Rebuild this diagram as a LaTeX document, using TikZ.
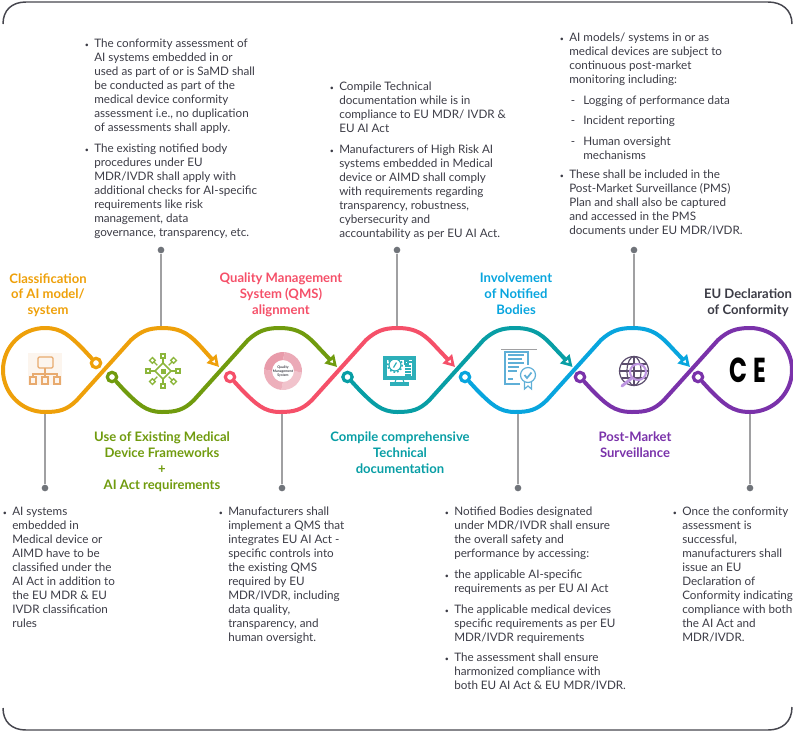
\documentclass[tikz,border=0pt]{standalone}
\usepackage{fontspec}
\setmainfont{Lato}
\newfontfamily\markfont{Poppins}
\usetikzlibrary{arrows.meta,positioning,calc}
\definecolor{frameGray}{RGB}{70,70,78}
\definecolor{textDark}{RGB}{60,60,70}
\definecolor{linkGray}{RGB}{160,160,162}
\definecolor{dotGray}{RGB}{112,116,122}
\definecolor{classOrange}{RGB}{238,160,10}
\definecolor{frameGreen}{RGB}{112,155,14}
\definecolor{qmsRed}{RGB}{245,80,105}
\definecolor{docTeal}{RGB}{8,158,165}
\definecolor{bodyBlue}{RGB}{8,165,222}
\definecolor{pmsPurple}{RGB}{122,50,170}
\definecolor{iconPeach}{RGB}{232,170,110}
\definecolor{iconGreen}{RGB}{140,182,60}
\definecolor{iconPink}{RGB}{232,155,170}
\definecolor{iconTeal}{RGB}{45,175,185}
\definecolor{iconBlue}{RGB}{95,175,215}
\definecolor{iconGlobe}{RGB}{92,78,110}
\definecolor{iconLens}{RGB}{190,150,225}
\newcommand{\blt}{\leavevmode\llap{\scalebox{.6}{\textbullet}\hspace{4pt}}}
\newcommand{\dashitem}{\hspace*{10.5pt}\llap{-\hspace{6pt}}}
\tikzset{
    descbox/.style={anchor=north west, inner sep=0pt, align=left, text=textDark,
        font=\fontsize{8.75}{10.5}\selectfont},
    titlebox/.style={anchor=north, inner sep=0pt, align=center,
        font=\fontsize{9.8}{11.8}\selectfont\bfseries},
    strand/.style={line width=3pt, line cap=round, line join=round, draw=#1},
    ringdot/.style={circle, draw=#1, line width=2.4pt, fill=white, minimum size=7pt, inner sep=0pt},
    pindot/.style={circle, fill=dotGray, minimum size=5pt, inner sep=0pt},
    link/.style={draw=linkGray, line width=0.9pt},
    arrowtip/.style={-{Triangle[open,length=8.5pt,width=9.5pt,line width=2pt]}}
}
\begin{document}
\begin{tikzpicture}[x=0.75pt,y=-0.75pt]
    \useasboundingbox (0,0) rectangle (793,733);

    \draw[frameGray, line width=1.1pt] (3,24) .. controls (3,10) and (12,2) .. (26,2) -- (768,2)
        .. controls (782,2) and (792,10) .. (792,24);
    \draw[frameGray, line width=1.1pt] (3,708) .. controls (3,722) and (12,730) .. (26,730) -- (768,730)
        .. controls (782,730) and (792,722) .. (792,707);

    \node[descbox] (descFrameworks) at (94,38.5) {\blt The conformity assessment of\\
        AI systems embedded in or\\
        used as part of or is SaMD shall\\
        be conducted as part of the\\
        medical device conformity\\
        assessment i.e., no duplication\\
        of assessments shall apply.\\[5pt]
        \blt The existing notified body\\
        procedures under EU\\
        MDR/IVDR shall apply with\\
        additional checks for AI-specific\\
        requirements like risk\\
        management, data\\
        governance, transparency, etc.};
    \node[descbox] (descTechnical) at (339,81.5) {\blt Compile Technical\\
        documentation while is in\\
        compliance to EU MDR/ IVDR \&\\
        EU AI Act\\[5pt]
        \blt Manufacturers of High Risk AI\\
        systems embedded in Medical\\
        device or AIMD shall comply\\
        with requirements regarding\\
        transparency, robustness,\\
        cybersecurity and\\
        accountability as per EU AI Act.};
    \node[descbox] (descMarket) at (569,32.5) {\blt AI models/ systems in or as\\
        medical devices are subject to\\
        continuous post-market\\
        monitoring including:\\[5pt]
        \dashitem Logging of performance data\\[5pt]
        \dashitem Incident reporting\\[5pt]
        \dashitem Human oversight\\
        \hspace*{10.5pt}mechanisms\\[4pt]
        \blt These shall be included in the\\
        Post-Market Surveillance (PMS)\\
        Plan and shall also be captured\\
        and accessed in the PMS\\
        documents under EU MDR/IVDR.};
    \node[descbox] (descClass) at (12,507) {\blt AI systems\\
        embedded in\\
        Medical device or\\
        AIMD have to be\\
        classified under the\\
        AI Act in addition to\\
        the EU MDR \& EU\\
        IVDR classification\\
        rules};
    \node[descbox] (descQms) at (228,507) {\blt Manufacturers shall\\
        implement a QMS that\\
        integrates EU AI Act -\\
        specific controls into\\
        the existing QMS\\
        required by EU\\
        MDR/IVDR, including\\
        data quality,\\
        transparency, and\\
        human oversight.};
    \node[descbox] (descBodies) at (454,507) {\blt Notified Bodies designated\\
        under MDR/IVDR shall ensure\\
        the overall safety and\\
        performance by accessing:\\[5pt]
        \blt the applicable AI-specific\\
        requirements as per EU AI Act\\[5pt]
        \blt The applicable medical devices\\
        specific requirements as per EU\\
        MDR/IVDR requirements\\[5pt]
        \blt The assessment shall ensure\\
        harmonized compliance with\\
        both EU AI Act \& EU MDR/IVDR.};
    \node[descbox] (descDeclaration) at (682,507) {\blt Once the conformity\\
        assessment is\\
        successful,\\
        manufacturers shall\\
        issue an EU\\
        Declaration of\\
        Conformity indicating\\
        compliance with both\\
        the AI Act and\\
        MDR/IVDR.};

    \node[titlebox, text=classOrange] (titleClass) at (48,273) {Classification\\of AI model/\\system};
    \node[titlebox, text=frameGreen] (titleFrameworks) at (162,432) {Use of Existing Medical\\Device Frameworks\\+\\AI Act requirements};
    \node[titlebox, text=qmsRed] (titleQms) at (281,273) {Quality Management\\System (QMS)\\alignment};
    \node[titlebox, text=docTeal] (titleTechnical) at (400,432) {Compile comprehensive\\Technical\\documentation};
    \node[titlebox, text=bodyBlue] (titleBodies) at (516,273) {Involvement\\of Notified\\Bodies};
    \node[titlebox, text=pmsPurple] (titleMarket) at (635,432) {Post-Market\\Surveillance};
    \node[titlebox, text=textDark] (titleDeclaration) at (748,289) {EU Declaration\\of Conformity};

    \foreach \n/\px/\py/\wy in {a/161/250/328, b/397/250/328, c/634/250/328, d/45/488/412, e/282/488/412, f/518/488/412, g/750/488/412} {
        \node[pindot] (pin\n) at (\px,\py) {};
        \coordinate (wave\n) at (\px,\wy);
        \path[link] (pin\n) -- (wave\n);
    }

    \node[ringdot=classOrange] (ringOne) at (96,363) {};
    \coordinate (tipOne) at (219,367);
    \draw[strand=classOrange, arrowtip] (ringOne) -- (83,349) .. controls (70,336) and (62,328) .. (45,328)
        arc[start angle=-90, end angle=-270, radius=42]
        .. controls (59,412) and (67,410) .. (77,400) -- (131,340) .. controls (141,331) and (149,328) .. (162.5,328)
        .. controls (183,328) and (191,336) .. (202,348) -- (tipOne);
    \foreach \n/\x/\col in {Two/162/frameGreen, Three/280/qmsRed, Four/397.5/docTeal, Five/515/bodyBlue} {
        \node[ringdot=\col] (ring\n) at (\x-50,377) {};
        \coordinate (tip\n) at (\x+175,367);
        \draw[strand=\col, arrowtip] (ring\n) -- (\x-38,390) .. controls (\x-24,404) and (\x-16,412) .. (\x,412)
            .. controls (\x+14,412) and (\x+22,410) .. (\x+32,400) -- (\x+86,340)
            .. controls (\x+96,331) and (\x+104,328) .. (\x+117.5,328)
            .. controls (\x+138,328) and (\x+146,336) .. (\x+157,348) -- (tip\n);
    }
    \node[ringdot=pmsPurple] (ringSix) at (580,377) {};
    \node[ringdot=pmsPurple] (ringSeven) at (698,377) {};
    \draw[strand=pmsPurple] (ringSix) -- (592,390) .. controls (606,404) and (614,412) .. (632,412)
        .. controls (646,412) and (654,410) .. (664,400) -- (718,340)
        .. controls (728,331) and (736,328) .. (750,328)
        arc[start angle=-90, end angle=90, radius=42]
        .. controls (732,412) and (724,404) .. (710,390) -- (ringSeven);

    \begin{scope}[shift={(45,370)}, draw=iconPeach, line width=0.9pt]
        \fill[iconPeach!12] (-17,-17) rectangle (17,15);
        \draw[rounded corners=1pt] (-7,-13) rectangle (8,-2);
        \draw (0,-2) -- (0,4) (-12,7) -- (-12,4) -- (12,4) -- (12,7) (0,4) -- (0,7);
        \draw (-15,7) rectangle (-9,14) (-3,7) rectangle (3,14) (9,7) rectangle (15,14);
    \end{scope}

    \begin{scope}[shift={(163,371)}, draw=iconGreen, line width=1pt]
        \draw[line width=1.2pt] (-8,0) -- (0,-8) -- (8,0) -- (0,8) -- cycle;
        \fill[iconGreen] (-2.5,-2.5) rectangle (2.5,2.5);
        \foreach \a in {0,45,...,315} {
            \draw (\a:8) -- (\a:13);
            \draw[rotate=\a] (13,-2) rectangle (17,2);
        }
    \end{scope}

    \begin{scope}[shift={(283,371)}]
        \foreach \a/\shade in {0/60, 90/80, 180/100, 270/85} {
            \fill[iconPink!\shade] (\a:11) arc[start angle=\a, end angle=\a+90, radius=11]
                -- (\a+95:19) arc[start angle=\a+95, end angle=\a+5, radius=19] -- cycle;
        }
        \node[inner sep=0pt, align=center, text=textDark, font=\fontsize{2.6}{3}\selectfont\bfseries] (iconQms) at (0,0) {Quality\\Management\\System};
    \end{scope}

    \begin{scope}[shift={(399,368)}, draw=iconTeal, line width=0.9pt]
        \draw (-15,-11) rectangle (16,11);
        \draw (-13,-9) rectangle (14,9);
        \draw (-4,-3) circle (6);
        \draw[line width=1.2pt, dash pattern=on 1.2pt off 1.6pt] (-4,-3) circle (7.2);
        \draw (-5.5,-0.5) -- (-2.5,-5.5);
        \draw (6,-7) rectangle (9,-4) (10,-6) -- (13,-6) (6,-2) -- (12,-2) (6,1) -- (12,1) (6,4) -- (12,4) (6,7) -- (12,7);
        \draw (-3,11) -- (-4,15) (4,11) -- (5,15);
        \draw (-8,15) rectangle (9,17);
    \end{scope}

    \begin{scope}[shift={(516,368)}, draw=iconBlue, line width=0.9pt]
        \draw[linkGray, line width=0.7pt] (-15,-19) -- (21,-19);
        \draw (4,16) -- (-11,16) -- (-11,-16) -- (12,-16) -- (12,-3);
        \draw (-8,-13) -- (8,-13) (-8,-9) -- (6,-9) (-8,-5) -- (8,-5) (-8,-1) -- (3,-1) (-8,3) -- (1,3) (-8,11) -- (-3,11);
        \draw (12,7) circle (7.5);
        \draw[line width=1.3pt] (8.5,7) -- (11,10) -- (15.5,4.5);
        \draw (8.5,14) -- (8.5,21) -- (12,18) -- (15.5,21) -- (15.5,14);
    \end{scope}

    \begin{scope}[shift={(634,371)}, draw=iconGlobe, line width=0.9pt]
        \draw (0,0) circle (14.5);
        \draw (0,-14.5) -- (0,14.5) (-14.5,0) -- (14.5,0);
        \draw (0,0) ellipse (7 and 14.5);
        \draw (-12.5,-7) -- (12.5,-7) (-12.5,7) -- (12.5,7);
        \draw[iconLens, line width=1.6pt] (4,1) circle (8);
        \draw[iconLens, line width=2.2pt, line cap=round] (-2,7) -- (-12,15);
    \end{scope}

    \node[inner sep=0pt, text=black, font=\fontsize{26}{26}\markfont\bfseries] (markCE) at (748,370) {\scalebox{.68}[1]{C}\hspace{4pt}\scalebox{.68}[1]{E}};
\end{tikzpicture}
\end{document}
